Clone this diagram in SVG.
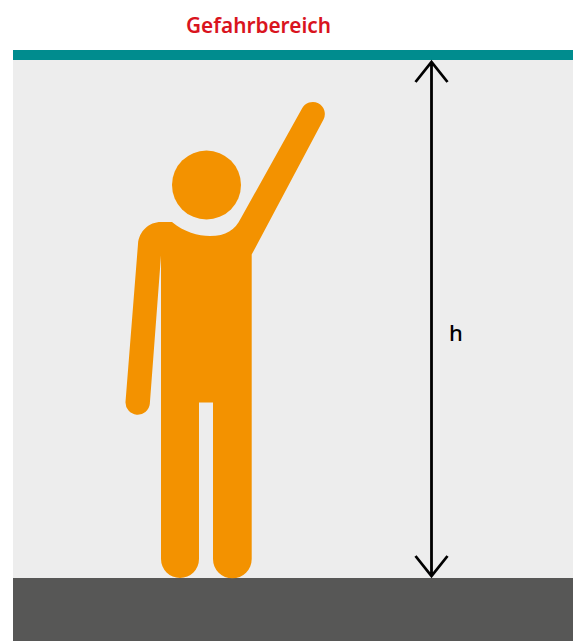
<svg xmlns="http://www.w3.org/2000/svg" width="573" height="641" viewBox="0 0 573 641">
<style>
.lbl{font-family:"Noto Sans","Liberation Sans",sans-serif;font-weight:600}
.dim{fill:none;stroke:#000;stroke-width:2.800}
</style>
<rect width="573" height="641" fill="#fff"/>
<rect id="zone" x="13" y="60" width="560" height="518" fill="#ededed"/>
<rect id="limit" x="13" y="50" width="560" height="10" fill="#008c8e"/>
<rect id="ground" x="13" y="578" width="560" height="63" fill="#575756"/>
<text class="lbl" x="186" y="33" font-size="22" fill="#d9141e" textLength="145" lengthAdjust="spacingAndGlyphs">Gefahrbereich</text>
<g id="person" fill="#f39200">
<circle cx="206.500" cy="185" r="34.500"/>
<path d="M172 222C184 232 198 236 210 236C226 236 235 230 241 218L302 108.500A12 12 0 0 1 323.500 119.500L251.700 254.500V559A19 19 0 0 1 213 559V402.500H199V559A19 19 0 0 1 161 559V255.500L149.800 404A12.200 12.200 0 0 1 125.500 402L138 244C139 231 149 222 161 222Z"/>
</g>
<g id="connectors">
<path class="dim" d="M431.500 62V576M415.500 82L431.500 62L447.500 82M415.500 556L431.500 576L447.500 556"/>
</g>
<text x="449" y="341" font-size="22" fill="#000" font-family="'Noto Sans','Liberation Sans',sans-serif" font-weight="500">h</text>
</svg>
